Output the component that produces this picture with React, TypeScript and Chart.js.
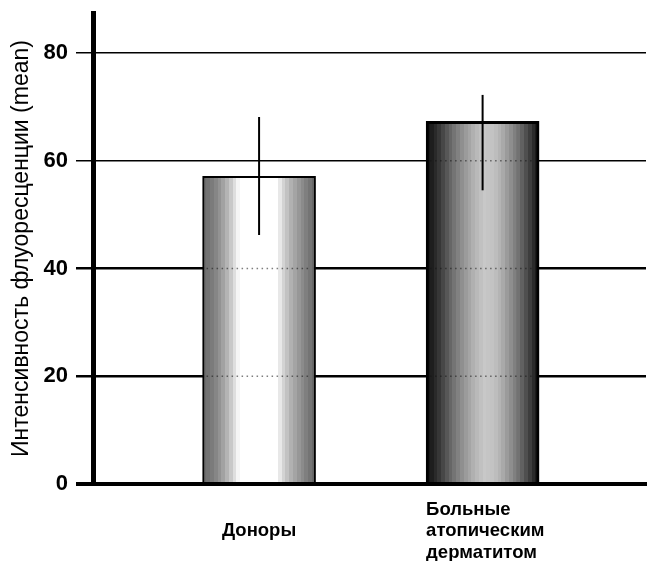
import React, { useEffect, useRef } from 'react';
import { Chart, registerables } from 'chart.js';

Chart.register(...registerables);

// ---- data ----
const categories: string[][] = [["Доноры"], ["Больные", "атопическим", "дерматитом"]];
const categoryPositions = [1, 2];
const meanValues = [57.1, 67.3];
const errorLow = [46.2, 54.5];
const errorHigh = [68.1, 72.2];
const yTickValues = [0, 20, 40, 60, 80];
const yAxisTitle = "Интенсивность флуоресценции (mean)";

// ---- style ----
const FONT = '"Liberation Sans", Arial, Helvetica, sans-serif';
const BAR_W = 113;
const barShades: [number, number][][] = [
  [[0, 0x68], [0.06, 0x74], [0.13, 0x8a], [0.2, 0xaa], [0.27, 0xd4], [0.33, 0xff], [0.65, 0xff], [0.71, 0xd6], [0.79, 0xae], [0.88, 0x8c], [1, 0x62]],
  [[0, 0x12], [0.05, 0x1e], [0.11, 0x34], [0.18, 0x56], [0.26, 0x78], [0.34, 0x98], [0.43, 0xb4], [0.51, 0xc8], [0.6, 0xc2], [0.67, 0xae], [0.75, 0x8e], [0.83, 0x6c], [0.9, 0x46], [0.96, 0x24], [1, 0x14]],
];

function sampleGray(stops: [number, number][], t: number): number {
  for (let i = 0; i < stops.length - 1; i++) {
    const [p0, g0] = stops[i];
    const [p1, g1] = stops[i + 1];
    if (t >= p0 && t <= p1) return g0 + ((g1 - g0) * (t - p0)) / (p1 - p0 || 1);
  }
  return stops[stops.length - 1][1];
}

function bandedGradient(ctx: CanvasRenderingContext2D, x0: number, x1: number, stops: [number, number][]) {
  const g = ctx.createLinearGradient(x0, 0, x1, 0);
  const bands = 30;
  for (let b = 0; b < bands; b++) {
    const t0 = b / bands;
    const t1 = (b + 1) / bands;
    const v = Math.round(sampleGray(stops, (t0 + t1) / 2));
    const c = `rgb(${v},${v},${v})`;
    g.addColorStop(t0, c);
    g.addColorStop(Math.min(1, t1 - 0.0001), c);
  }
  return g;
}

const overlayPlugin = {
  id: 'overlay',
  afterDatasetsDraw(chart: any) {
    const ctx: CanvasRenderingContext2D = chart.ctx;
    const ys = chart.scales.y;
    const meta = chart.getDatasetMeta(0);
    ctx.save();
    // faint dotted gridlines seen through bars
    meta.data.forEach((el: any, i: number) => {
      const left = el.x - el.width / 2;
      const right = el.x + el.width / 2;
      yTickValues.forEach((v) => {
        if (v <= 0 || v >= meanValues[i]) return;
        const py = ys.getPixelForValue(v);
        ctx.strokeStyle = 'rgba(20,20,20,0.55)';
        ctx.lineWidth = 1.5;
        ctx.setLineDash([1.5, 3.5]);
        ctx.beginPath();
        ctx.moveTo(left + 4, py);
        ctx.lineTo(right - 4, py);
        ctx.stroke();
      });
    });
    ctx.setLineDash([]);
    // error bars
    meta.data.forEach((el: any, i: number) => {
      const yTop = ys.getPixelForValue(errorHigh[i]);
      const yBot = ys.getPixelForValue(errorLow[i]);
      ctx.strokeStyle = '#000';
      ctx.lineWidth = 2;
      ctx.beginPath();
      ctx.moveTo(el.x, yTop);
      ctx.lineTo(el.x, yBot);
      ctx.stroke();
    });
    ctx.restore();
  },
  afterDraw(chart: any) {
    const ctx: CanvasRenderingContext2D = chart.ctx;
    const meta = chart.getDatasetMeta(0);
    const area = chart.chartArea;
    ctx.save();
    ctx.fillStyle = '#000';
    ctx.font = `bold 18.5px ${FONT}`;
    ctx.textBaseline = 'middle';
    const lineH = 21.5;
    const midY = area.bottom + 47;
    meta.data.forEach((el: any, i: number) => {
      const lines = categories[i];
      const n = lines.length;
      lines.forEach((line, k) => {
        const y = midY + (k - (n - 1) / 2) * lineH;
        if (n > 1) {
          ctx.textAlign = 'left';
          ctx.fillText(line, el.x - el.width / 2, y);
        } else {
          ctx.textAlign = 'center';
          ctx.fillText(line, el.x, y);
        }
      });
    });
    ctx.restore();
  },
};

function lineWidthFor(v: number) {
  if (v === 0) return 4;
  if (v === 20 || v === 40) return 2.5;
  return 1.5;
}

export default function App() {
  const canvasRef = useRef<HTMLCanvasElement | null>(null);

  useEffect(() => {
    document.body.style.margin = '0';
    const canvas = canvasRef.current;
    if (!canvas) return;
    const chart = new Chart(canvas, {
      type: 'bar',
      data: {
        datasets: [
          {
            data: categoryPositions.map((x, i) => ({ x, y: meanValues[i] })),
            barThickness: BAR_W,
            borderColor: '#000',
            borderWidth: [2, 3],
            borderSkipped: 'start',
            backgroundColor: (c: any) => {
              const chart = c.chart;
              const xs = chart.scales?.x;
              if (c.type !== 'data' || !xs || !chart.chartArea) return '#999';
              const cx = xs.getPixelForValue(categoryPositions[c.dataIndex]);
              return bandedGradient(chart.ctx, cx - BAR_W / 2, cx + BAR_W / 2, barShades[c.dataIndex]);
            },
          } as any,
        ],
      },
      options: {
        responsive: false,
        animation: false,
        events: [],
        layout: { padding: { top: 13, right: 1, left: 0, bottom: 0 } },
        plugins: { legend: { display: false }, tooltip: { enabled: false } },
        scales: {
          x: {
            type: 'linear',
            offset: false,
            min: 0.257,
            max: 2.731,
            ticks: { display: false },
            grid: { display: false, drawTicks: false, offset: false },
            border: { display: true, color: '#000', width: 4, z: 1 },
            afterFit: (s: any) => {
              s.height = 77;
              s.paddingLeft = 0;
              s.paddingRight = 0;
            },
          },
          y: {
            type: 'linear',
            min: 0,
            max: 87.4,
            afterBuildTicks: (s: any) => {
              s.ticks = yTickValues.map((v) => ({ value: v }));
            },
            afterFit: (s: any) => {
              s.width = 93;
              s.paddingTop = 0;
              s.paddingBottom = 0;
            },
            ticks: {
              color: '#000',
              padding: 8,
              font: { family: FONT, size: 22, weight: 'bold' },
            },
            grid: {
              color: '#000',
              lineWidth: (c: any) => lineWidthFor(c.tick?.value),
              tickColor: '#000',
              tickWidth: (c: any) => lineWidthFor(c.tick?.value),
              tickLength: 17,
            },
            border: { display: true, color: '#000', width: 5 },
            title: {
              display: true,
              text: yAxisTitle,
              color: '#000',
              font: { family: FONT, size: 23, weight: 'normal' },
              padding: { top: 8, bottom: 0 },
            },
          },
        },
      },
      plugins: [overlayPlugin],
    } as any);
    return () => chart.destroy();
  }, []);

  return (
    <div style={{ width: 647, height: 561, background: '#fff' }}>
      <canvas ref={canvasRef} width={647} height={561} style={{ display: 'block' }} />
    </div>
  );
}
